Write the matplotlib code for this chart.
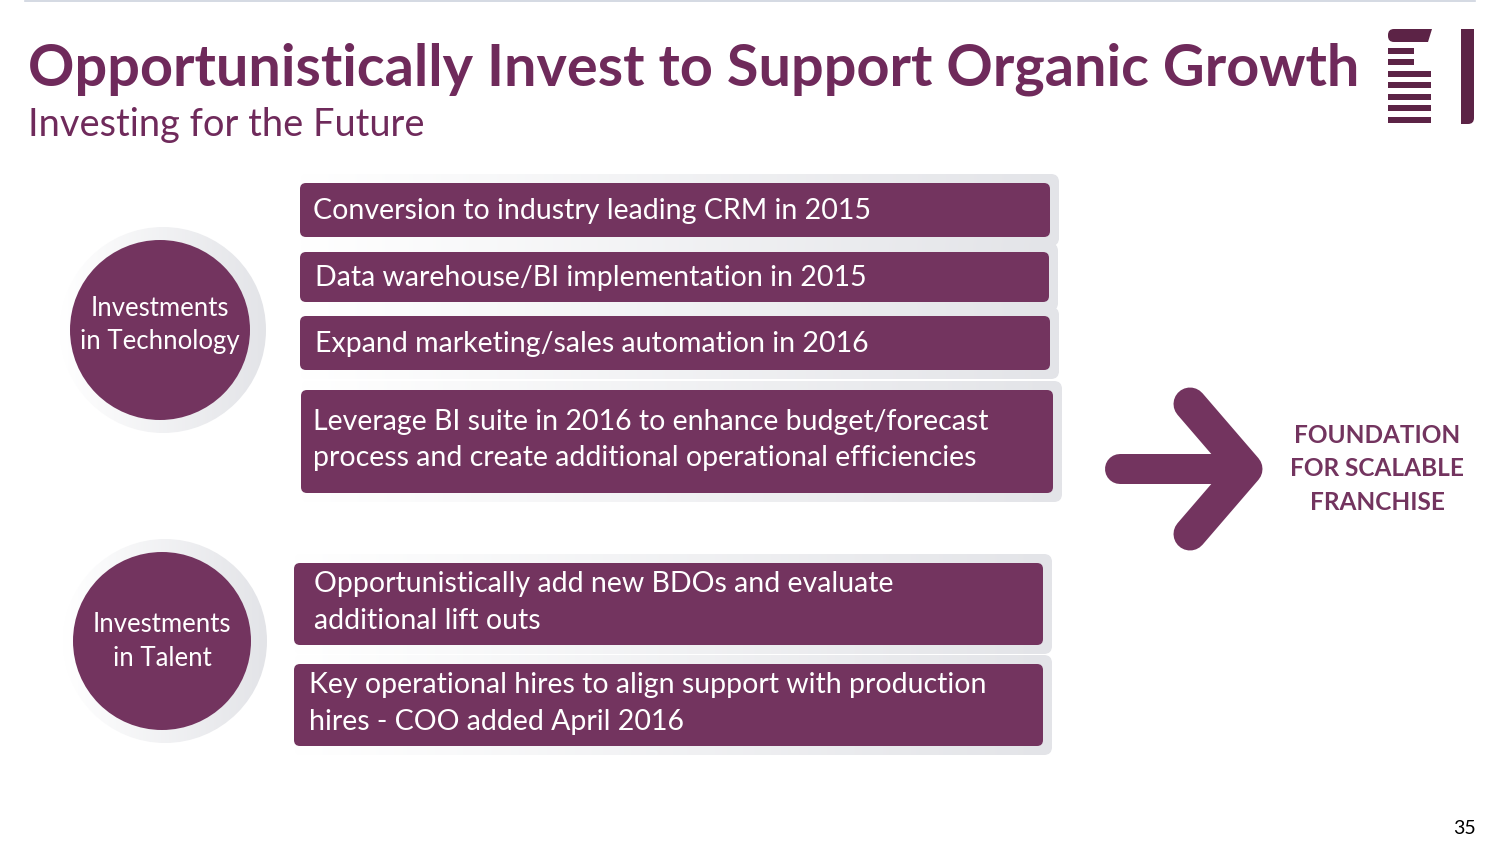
import numpy as np
import matplotlib
matplotlib.use("Agg")
import matplotlib.pyplot as plt
from matplotlib.patches import FancyBboxPatch, Circle, Rectangle, Polygon
from matplotlib.colors import LinearSegmentedColormap

plt.rcParams['font.family'] = ['Lato', 'DejaVu Sans']

# ---- content ----
title = "Opportunistically Invest to Support Organic Growth"
subtitle = "Investing for the Future"
circle_labels = ["Investments\nin Technology", "Investments\nin Talent"]
tech_items = [
    "Conversion to industry leading CRM in 2015",
    "Data warehouse/BI implementation in 2015",
    "Expand marketing/sales automation in 2016",
    "Leverage BI suite in 2016 to enhance budget/forecast\nprocess and create additional operational efficiencies",
]
talent_items = [
    "Opportunistically add new BDOs and evaluate\nadditional lift outs",
    "Key operational hires to align support with production\nhires - COO added April 2016",
]
outcome = "FOUNDATION\nFOR SCALABLE\nFRANCHISE"
page_no = "35"

PURPLE = "#73345F"
TITLE_C = "#6F2A5B"
LOGO_C = "#5C2346"
SHADOW = LinearSegmentedColormap.from_list("sh", ["#FFFFFF", "#E3E4E8"])

W, H = 1504, 846
fig = plt.figure(figsize=(W / 100, H / 100), dpi=100)
ax = fig.add_axes([0, 0, 1, 1])
ax.set_axis_off()


def shaded(patch, x0, x1, y0, y1, z):
    patch.set_facecolor("none")
    patch.set_edgecolor("none")
    ax.add_patch(patch)
    grad = np.linspace(0, 1, 256).reshape(1, -1)
    im = ax.imshow(grad, extent=(x0, x1, y1, y0), cmap=SHADOW, aspect="auto",
                   zorder=z, interpolation="bilinear")
    im.set_clip_path(patch)


def box(x0, y0, x1, y1, text, tx):
    # soft grey shadow behind
    sp = FancyBboxPatch((x0, y0 - 9), x1 + 9 - x0, y1 - y0 + 18,
                        boxstyle="round,pad=0,rounding_size=8")
    shaded(sp, x0, x1 + 9, y0 - 9, y1 + 9, 1)
    ax.add_patch(FancyBboxPatch((x0, y0), x1 - x0, y1 - y0,
                                boxstyle="round,pad=0,rounding_size=6",
                                fc=PURPLE, ec="none", zorder=2))
    dy = -1.5 if "\n" in text else 1
    ax.text(tx, (y0 + y1) / 2 + dy, text, color="white", fontsize=20.5,
            ha="left", va="center", linespacing=1.5, zorder=3)


# top rule
ax.plot([25, 1475], [1, 1], color="#CDD3DE", lw=1.2)

# title block
ax.text(28, 69, title, color=TITLE_C, fontsize=41.5, fontweight="bold",
        ha="left", va="center")
ax.text(28, 125, subtitle, color=TITLE_C, fontsize=27.4, ha="left", va="center")

# logo
ax.add_patch(FancyBboxPatch((1388, 29), 40, 13, boxstyle="round,pad=0,rounding_size=6",
                            fc=LOGO_C, ec="none"))
ax.add_patch(Polygon([(1420, 29), (1432, 29), (1428, 42), (1420, 42)],
                     closed=True, fc=LOGO_C, ec="none"))
for yb, xr in zip([48, 59, 71, 82, 94, 105, 117], [1414, 1414, 1431, 1431, 1431, 1431, 1431]):
    ax.add_patch(Rectangle((1388, yb), xr - 1388, 6, fc=LOGO_C, ec="none"))
ax.add_patch(Rectangle((1461, 29), 13, 80, fc=LOGO_C, ec="none"))
ax.add_patch(FancyBboxPatch((1461, 29), 13, 95, boxstyle="round,pad=0,rounding_size=6",
                            fc=LOGO_C, ec="none"))
ax.add_patch(Rectangle((1461, 100), 6, 24, fc=LOGO_C, ec="none"))

# circles
for (cx, cy, r, dy), label in zip([(160, 330, 90, -5), (162, 641, 89, 0)], circle_labels):
    ring = Circle((cx + 3, cy), r + 13)
    shaded(ring, cx - r - 10, cx + r + 16, cy - r - 13, cy + r + 13, 1)
    ax.add_patch(Circle((cx, cy), r, fc=PURPLE, ec="none", zorder=2))
    ax.text(cx, cy + dy, label, color="white", fontsize=18.5, ha="center",
            va="center", linespacing=1.45, zorder=3)

# technology boxes
tech_boxes = [(300, 183, 1050, 237), (300, 252, 1049, 302),
              (300, 316, 1050, 370), (301, 390, 1053, 493)]
tech_tx = [313, 315, 315, 313]
for (x0, y0, x1, y1), t, tx in zip(tech_boxes, tech_items, tech_tx):
    box(x0, y0, x1, y1, t, tx)

# talent boxes
talent_boxes = [(294, 563, 1043, 645), (294, 664, 1043, 746)]
talent_tx = [314, 309]
for (x0, y0, x1, y1), t, tx in zip(talent_boxes, talent_items, talent_tx):
    box(x0, y0, x1, y1, t, tx)

# arrow
ax.plot([1120, 1240], [469, 469], color=PURPLE, lw=30 * 0.72,
        solid_capstyle="round", zorder=2)
ax.plot([1190, 1246, 1190], [404, 469, 534], color=PURPLE, lw=33 * 0.72,
        solid_capstyle="round", solid_joinstyle="round", zorder=2)

ax.text(1377, 469, outcome, color=PURPLE, fontsize=17.6, fontweight="bold",
        ha="center", va="center", linespacing=1.55)

ax.text(1465, 828, page_no, color="black", fontsize=14, ha="center", va="center")

ax.set_xlim(0, W)
ax.set_ylim(H, 0)
fig.savefig("out.png", dpi=100)
